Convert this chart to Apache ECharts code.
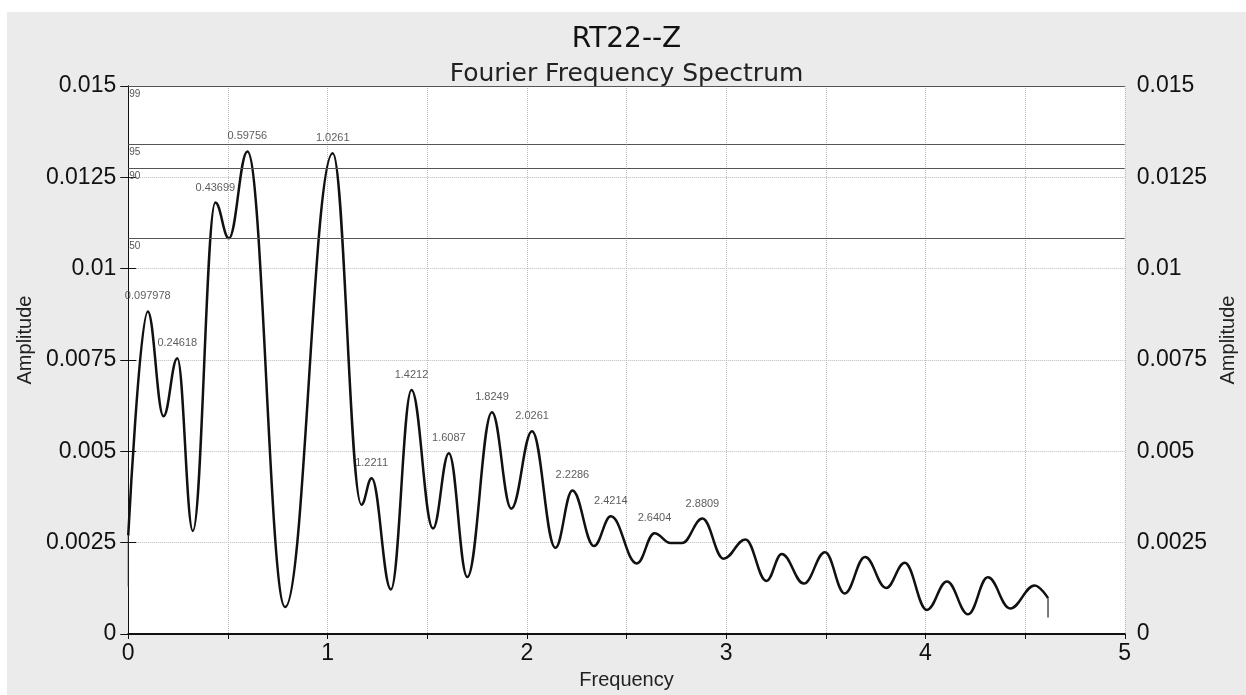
<!DOCTYPE html>
<html>
<head>
<meta charset="utf-8">
<title>RT22--Z</title>
<script src="https://cdn.jsdelivr.net/npm/echarts@6/dist/echarts.min.js"></script>
<style>
html, body { margin: 0; padding: 0; background: #fff; overflow: hidden; width: 100%; height: 100%; }
#spectrum { position: fixed; left: 7px; top: 12px; right: 0; bottom: 0; background: #ebebeb; }
</style>
</head>
<body>
<div id="spectrum"></div>
<script>
// 频谱曲线 (读图的极值点)
var freq = [0, 0.097978, 0.177, 0.24618, 0.324, 0.43699, 0.505, 0.59756, 0.787, 1.0261,
    1.170, 1.2211, 1.318, 1.4212, 1.529, 1.6087, 1.701, 1.8249, 1.922, 2.0261,
    2.143, 2.2286, 2.337, 2.4214, 2.552, 2.6404, 2.721, 2.779, 2.8809, 2.987,
    3.097, 3.202, 3.279, 3.390, 3.496, 3.595, 3.697, 3.803, 3.896, 4.007,
    4.108, 4.214, 4.313, 4.425, 4.548, 4.615];
var amp = [0.0027, 0.00883, 0.00596, 0.00755, 0.00282, 0.01181, 0.01083, 0.01321, 0.00074, 0.01316,
    0.00354, 0.00426, 0.00122, 0.00668, 0.00289, 0.00495, 0.00156, 0.00607, 0.00343, 0.00555,
    0.00236, 0.00393, 0.00241, 0.00322, 0.00193, 0.00276, 0.00249, 0.00249, 0.00316, 0.00206,
    0.00259, 0.00145, 0.00219, 0.00138, 0.00224, 0.00111, 0.00211, 0.00126, 0.00195, 0.00066,
    0.00144, 0.00054, 0.00155, 0.0007, 0.00133, 0.00098];
// 标注的峰值频率
var peakFreq = [0.097978, 0.24618, 0.43699, 0.59756, 1.0261, 1.2211, 1.4212, 1.6087,
    1.8249, 2.0261, 2.2286, 2.4214, 2.6404, 2.8809];
// 置信水平线
var levelNames = ['99', '95', '90', '50'];
var levelValues = [0.015, 0.01340, 0.01275, 0.01083];
// 首尾的竖线
var startTail = [[0, 0.0013], [0, 0.0027]];
var endTail = [[4.615, 0.00098], [4.615, 0.00045]];

var font = 'Liberation Sans, Arial, sans-serif';
var spectrumChart;

function initSpectrumChart() {
    spectrumChart = echarts.init(document.getElementById('spectrum'));
    var curve = [];
    for (var i = 0; i < freq.length; i++) {
        curve.push([freq[i], amp[i]]);
    }
    var peaks = [];
    for (var j = 0; j < peakFreq.length; j++) {
        var k = freq.indexOf(peakFreq[j]);
        peaks.push([peakFreq[j], amp[k]]);
    }
    var levels = [];
    for (var m = 0; m < levelNames.length; m++) {
        levels.push({ name: levelNames[m], yAxis: levelValues[m] });
    }
    var option = {
        animation: false,
        title: [{
            text: 'RT22--Z',
            left: 'center',
            top: 9,
            textStyle: { fontFamily: 'DejaVu Sans', fontSize: 28, fontWeight: 'normal', color: '#111' }
        }, {
            text: 'Fourier Frequency Spectrum',
            left: 'center',
            top: 45,
            textStyle: { fontFamily: 'DejaVu Sans', fontSize: 25, fontWeight: 'normal', color: '#222' }
        }],
        grid: {
            show: true,
            left: 120,
            top: 74,
            width: 1007,
            height: 554,
            backgroundColor: '#fff',
            borderWidth: 0
        },
        xAxis: [{
            type: 'value',
            min: 0,
            max: 5,
            interval: 0.5,
            name: 'Frequency',
            nameLocation: 'middle',
            nameGap: 36,
            nameTextStyle: { fontFamily: font, fontSize: 20, color: '#222' },
            axisLine: { lineStyle: { color: '#111', width: 1 } },
            axisTick: { length: 5, lineStyle: { color: '#111' } },
            axisLabel: {
                fontFamily: font, fontSize: 23, color: '#111', margin: 8,
                formatter: function (v) { return v % 1 === 0 ? String(v) : ''; }
            },
            splitLine: { show: true, lineStyle: { color: '#bbb', type: 'dotted', width: 1 } }
        }, {
            type: 'value',
            position: 'top',
            min: 0,
            max: 5,
            axisLine: { show: true, lineStyle: { color: '#111', width: 2 } },
            axisTick: { show: false },
            axisLabel: { show: false },
            splitLine: { show: false }
        }],
        yAxis: [{
            type: 'value',
            position: 'left',
            min: 0,
            max: 0.015,
            interval: 0.0025,
            name: 'Amplitude',
            nameLocation: 'middle',
            nameRotate: 90,
            nameGap: 90,
            nameTextStyle: { fontFamily: font, fontSize: 20, color: '#222', padding: [0, 0, 0, 40] },
            axisLine: { show: true, lineStyle: { color: '#111', width: 1 } },
            axisTick: { show: true, length: 8, lineStyle: { color: '#111' } },
            axisLabel: { fontFamily: font, fontSize: 23, color: '#111', margin: 12 },
            splitLine: { show: true, lineStyle: { color: '#bbb', type: 'dotted', width: 1 } }
        }, {
            type: 'value',
            position: 'right',
            min: 0,
            max: 0.015,
            interval: 0.0025,
            name: 'Amplitude',
            nameLocation: 'middle',
            nameRotate: 90,
            nameGap: 92,
            nameTextStyle: { fontFamily: font, fontSize: 20, color: '#222', padding: [0, 0, 0, 40] },
            axisLine: { show: true, lineStyle: { color: '#111', width: 1 } },
            axisTick: { show: true, length: 8, lineStyle: { color: '#111' } },
            axisLabel: { fontFamily: font, fontSize: 23, color: '#111', margin: 12 },
            splitLine: { show: false }
        }],
        series: [{
            name: 'Amplitude',
            type: 'line',
            data: curve,
            smooth: 0.4,
            smoothMonotone: 'x',
            showSymbol: false,
            lineStyle: { color: '#111', width: 2.5 },
            markLine: {
                silent: true,
                precision: 6,
                symbol: ['none', 'none'],
                lineStyle: { color: '#555', type: 'solid', width: 1 },
                label: {
                    position: 'insideStartBottom',
                    formatter: '{b}',
                    fontFamily: font,
                    fontSize: 10,
                    color: '#555',
                    distance: [1, 3]
                },
                data: levels
            }
        }, {
            type: 'line',
            data: startTail,
            showSymbol: false,
            lineStyle: { color: '#222', width: 1 }
        }, {
            type: 'line',
            data: endTail,
            showSymbol: false,
            lineStyle: { color: '#222', width: 1.2 }
        }, {
            type: 'scatter',
            data: peaks,
            symbolSize: 1,
            itemStyle: { color: 'rgba(0,0,0,0)' },
            silent: true,
            label: {
                show: true,
                position: 'top',
                distance: 9,
                fontFamily: font,
                fontSize: 11,
                color: '#333',
                formatter: function (p) { return String(p.value[0]); }
            }
        }]
    };
    spectrumChart.setOption(option);
}

initSpectrumChart();
window.onresize = function () {
    spectrumChart.resize();
};
</script>
</body>
</html>
